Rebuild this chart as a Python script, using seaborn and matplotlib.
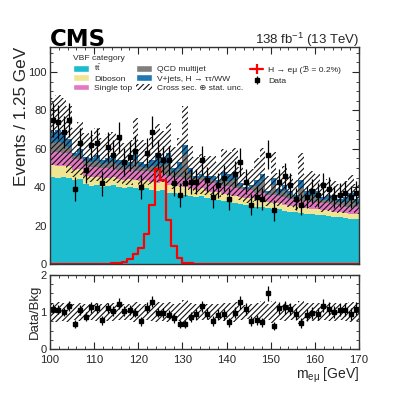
import numpy as np
import pandas as pd
import matplotlib
matplotlib.use("Agg")
import matplotlib.pyplot as plt
import seaborn as sns
from matplotlib.patches import Patch
from matplotlib.lines import Line2D
from matplotlib.ticker import MultipleLocator

# binning: 100-170 GeV in 1.25 GeV bins
bin_edges = list(np.linspace(100, 170, 57))

# background components (events / bin)
ttbar = [45.5, 45.0, 45.5, 45.0, 44.0, 44.5, 41.5, 40.5, 41.0, 40.0, 40.5, 41.0, 40.0, 39.5,
         40.0, 39.5, 39.0, 39.5, 38.5, 38.0, 38.5, 37.0, 37.0, 36.5, 36.0, 35.5, 35.0, 35.5,
         34.5, 34.0, 33.5, 33.0, 32.5, 32.0, 31.5, 31.0, 31.0, 30.0, 29.5, 29.0, 28.5, 28.5,
         27.5, 27.0, 27.0, 26.5, 26.0, 26.0, 25.5, 25.5, 25.0, 24.5, 24.5, 24.0, 23.5, 23.5]
diboson = [6.0, 6.2, 5.8, 6.0, 5.0, 4.8, 4.6, 4.8, 4.5, 4.7, 4.4, 4.6, 4.3, 4.5,
           4.4, 4.2, 4.5, 4.3, 4.4, 4.1, 4.3, 4.2, 4.0, 4.1, 3.9, 4.0, 3.8, 3.9,
           3.8, 3.7, 3.9, 3.6, 3.7, 3.5, 3.6, 3.4, 3.6, 3.3, 3.5, 3.2, 3.4, 3.2,
           3.3, 3.1, 3.2, 3.0, 3.1, 2.9, 3.0, 2.8, 3.0, 2.8, 2.9, 2.7, 2.8, 2.7]
single_top = [6.8, 7.0, 6.6, 6.9, 5.6, 5.4, 5.2, 5.5, 5.1, 5.3, 5.0, 5.2, 4.9, 5.1,
              5.0, 4.8, 5.1, 4.9, 5.0, 4.7, 4.9, 4.8, 4.6, 4.7, 4.5, 4.6, 4.4, 4.5,
              4.4, 4.3, 4.5, 4.2, 4.3, 4.1, 4.2, 4.0, 4.2, 3.9, 4.1, 3.8, 4.0, 3.8,
              3.9, 3.7, 3.8, 3.6, 3.7, 3.5, 3.6, 3.4, 3.6, 3.4, 3.5, 3.3, 3.4, 3.3]
qcd = [4.8, 5.3, 5.0, 3.3, 1.6, 2.3, 2.4, 2.2, 3.0, 2.0, 2.6, 2.5, 2.4, 1.5,
       1.8, 5.5, 2.2, 1.6, 3.0, 5.0, 3.8, 6.0, 2.2, 4.0, 13.0, 3.0, 1.4, 1.5,
       1.6, 2.0, 1.0, 3.2, 3.0, 4.2, 1.3, 0.8, 1.1, 3.6, 6.0, 1.0, 5.5, 1.7,
       3.3, 2.1, 1.0, 6.5, 2.6, 3.3, 3.0, 1.6, 2.2, 2.1, 1.5, 2.5, 3.5, 2.2]
vjets = [5.9, 6.5, 6.1, 3.8, 1.8, 3.0, 2.3, 2.0, 3.4, 2.0, 2.5, 2.7, 2.4, 1.4,
         1.8, 6.0, 2.2, 1.7, 3.1, 6.2, 4.5, 6.0, 2.2, 3.7, 4.6, 2.9, 1.4, 1.6,
         1.7, 2.0, 1.1, 4.0, 3.5, 4.2, 1.4, 0.8, 1.1, 3.2, 3.9, 1.0, 3.6, 1.8,
         3.0, 2.1, 1.0, 4.4, 2.6, 3.3, 2.9, 1.7, 2.2, 2.2, 1.6, 2.5, 3.8, 2.3]

# relative cross section (+) stat. uncertainty of the total background
rel_unc = [0.25, 0.26, 0.25, 0.27, 0.22, 0.23, 0.22, 0.22, 0.24, 0.22, 0.23, 0.23, 0.22, 0.21,
           0.22, 0.27, 0.22, 0.21, 0.23, 0.26, 0.24, 0.27, 0.22, 0.24, 0.33, 0.23, 0.21, 0.22,
           0.22, 0.22, 0.21, 0.25, 0.24, 0.26, 0.21, 0.20, 0.21, 0.25, 0.29, 0.21, 0.30, 0.22,
           0.24, 0.22, 0.21, 0.31, 0.23, 0.24, 0.24, 0.22, 0.23, 0.23, 0.22, 0.24, 0.26, 0.23]

# H -> e mu signal (B = 0.2%)
signal = [0.1, 0.1, 0.1, 0.1, 0.1, 0.1, 0.1, 0.2, 0.2, 0.3, 0.3, 0.4, 0.7, 1.2,
          2.8, 5.2, 8.6, 15.6, 31.0, 49.3, 43.7, 22.9, 9.3, 3.1, 0.8, 0.4, 0.2, 0.1,
          0.1, 0.1, 0.1, 0.1, 0.1, 0.1, 0.1, 0.1, 0.1, 0.1, 0.1, 0.1, 0.1, 0.1,
          0.1, 0.1, 0.1, 0.1, 0.1, 0.1, 0.1, 0.1, 0.1, 0.1, 0.1, 0.1, 0.1, 0.1]

# observed events
data = [75, 74, 69, 75, 39, 63, 49, 62, 63, 42, 61, 57, 66, 53,
        56, 59, 40, 58, 69, 57, 54, 54, 42, 36, 42, 43, 43, 54,
        44, 35, 41, 45, 34, 47, 53, 43, 31, 35, 34, 57, 28, 43,
        46, 41, 34, 31, 35, 38, 36, 41, 39, 35, 36, 37, 35, 37]

process_order = ["V+jets", "QCD", "Single top", "Diboson", "ttbar"]  # top -> bottom of stack
colors = {"ttbar": "#1bbccf", "Diboson": "#efe592", "Single top": "#e377c2",
          "QCD": "#7f7f7f", "V+jets": "#1f77b4"}

sns.set_style("ticks")
plt.rcParams["font.family"] = ["Liberation Sans", "DejaVu Sans"]
plt.rcParams["mathtext.fontset"] = "custom"
plt.rcParams["mathtext.rm"] = "Liberation Sans"
plt.rcParams["mathtext.it"] = "Liberation Sans:italic"
plt.rcParams["hatch.linewidth"] = 0.8
plt.rcParams["axes.linewidth"] = 1.0
plt.rcParams["axes.edgecolor"] = "#333333"

centers = [0.5 * (lo + hi) for lo, hi in zip(bin_edges[:-1], bin_edges[1:])]
components = {"V+jets": vjets, "QCD": qcd, "Single top": single_top,
              "Diboson": diboson, "ttbar": ttbar}
df = pd.concat([pd.DataFrame({"mass": centers, "events": v, "process": k})
                for k, v in components.items()], ignore_index=True)
sig_df = pd.DataFrame({"mass": centers, "events": signal})

total = np.sum([np.array(v) for v in components.values()], axis=0)
unc = total * np.array(rel_unc)
data = np.array(data, dtype=float)
data_err = np.sqrt(data)

fig = plt.figure(figsize=(3.99, 3.99), dpi=100)
ax = fig.add_axes([0.125, 0.338, 0.775, 0.544])
rax = fig.add_axes([0.125, 0.125, 0.775, 0.186])

sns.histplot(data=df, x="mass", weights="events", hue="process", hue_order=process_order,
             multiple="stack", bins=bin_edges, element="step", fill=True, alpha=1,
             linewidth=0, palette=colors, legend=False, ax=ax)
ax.bar(centers, 2 * unc, bottom=total - unc, width=1.25, fill=False, hatch="//////",
       edgecolor="#111111", linewidth=0)
sns.histplot(data=sig_df, x="mass", weights="events", bins=bin_edges, element="step",
             fill=False, color="red", linewidth=1.6, ax=ax)
data_handle = ax.errorbar(centers, data, yerr=data_err, fmt="s", color="black",
                          markersize=2.4, elinewidth=0.9, capsize=0)

# ratio panel
rax.bar(centers, 2 * np.array(rel_unc), bottom=1 - np.array(rel_unc), width=1.25,
        fill=False, hatch="//////", edgecolor="#111111", linewidth=0)
rax.errorbar(centers, data / total, yerr=data_err / total, fmt="s", color="black",
             markersize=2.4, elinewidth=0.9, capsize=0)

ax.set_xlim(100, 170)
ax.set_ylim(0, 113)
rax.set_xlim(100, 170)
rax.set_ylim(0, 2)

for a in (ax, rax):
    a.xaxis.set_major_locator(MultipleLocator(10))
    a.xaxis.set_minor_locator(MultipleLocator(2))
    a.tick_params(which="both", direction="in", top=True, right=True)
    a.tick_params(axis="x", labelsize=8.2)
    a.tick_params(axis="y", labelsize=8, pad=2.5)
    a.tick_params(which="major", length=5, width=0.8)
    a.tick_params(which="minor", length=2.5, width=0.6)
ax.yaxis.set_major_locator(MultipleLocator(20))
ax.yaxis.set_minor_locator(MultipleLocator(5))
rax.yaxis.set_major_locator(MultipleLocator(1))
rax.yaxis.set_minor_locator(MultipleLocator(0.25))
ax.tick_params(labelbottom=False)
rax.tick_params(axis="x", pad=4.2)

ax.set_xlabel("")
ax.set_ylabel("Events / 1.25 GeV", fontsize=12.3, loc="top")
ax.yaxis.set_label_coords(-0.068, 1.0)
rax.set_ylabel("Data/Bkg", fontsize=9.5)
rax.yaxis.set_label_coords(-0.03, 0.5)
rax.set_xlabel(r"m$_{\mathrm{e\mu}}$ [GeV]", fontsize=10, loc="right")
rax.xaxis.set_label_coords(1.0, -0.23)

fig.text(0.125, 0.885, "CMS", fontsize=16.5, fontweight="bold", family="DejaVu Sans",
         color="black", ha="left", va="baseline")
fig.text(0.90, 0.889, r"138 fb$^{-1}$ (13 TeV)", fontsize=9.5, ha="right", va="baseline")

bkg_handles = [Patch(facecolor=colors["ttbar"], label=r"$\mathrm{t\bar{t}}$"),
               Patch(facecolor=colors["Diboson"], label="Diboson"),
               Patch(facecolor=colors["Single top"], label="Single top"),
               Patch(facecolor=colors["QCD"], label="QCD multijet"),
               Patch(facecolor=colors["V+jets"], label="V+jets, H → ττ/WW"),
               Patch(facecolor="none", edgecolor="#111111", hatch="//////", linewidth=0,
                     label="Cross sec. ⊕ stat. unc.")]
leg1 = ax.legend(handles=bkg_handles, ncol=2, title="VBF category", alignment="left",
                 loc="upper left", bbox_to_anchor=(0.06, 0.985), frameon=False,
                 fontsize=6.1, title_fontsize=6.1, handlelength=1.9, handleheight=0.8,
                 handletextpad=0.6, columnspacing=0.5, labelspacing=0.14, borderpad=0)
ax.add_artist(leg1)
sig_handle = Line2D([], [], color="red", linewidth=1.6, marker="|", markersize=7,
                    markeredgewidth=1.6)
ax.legend(handles=[sig_handle, data_handle], labels=["H → eμ (ℬ = 0.2%)", "Data"],
          loc="upper left", bbox_to_anchor=(0.635, 0.935), frameon=False, fontsize=6.1,
          handlelength=1.5, handletextpad=0.6, labelspacing=0.4, borderpad=0)

fig.savefig("out.png", dpi=100)
